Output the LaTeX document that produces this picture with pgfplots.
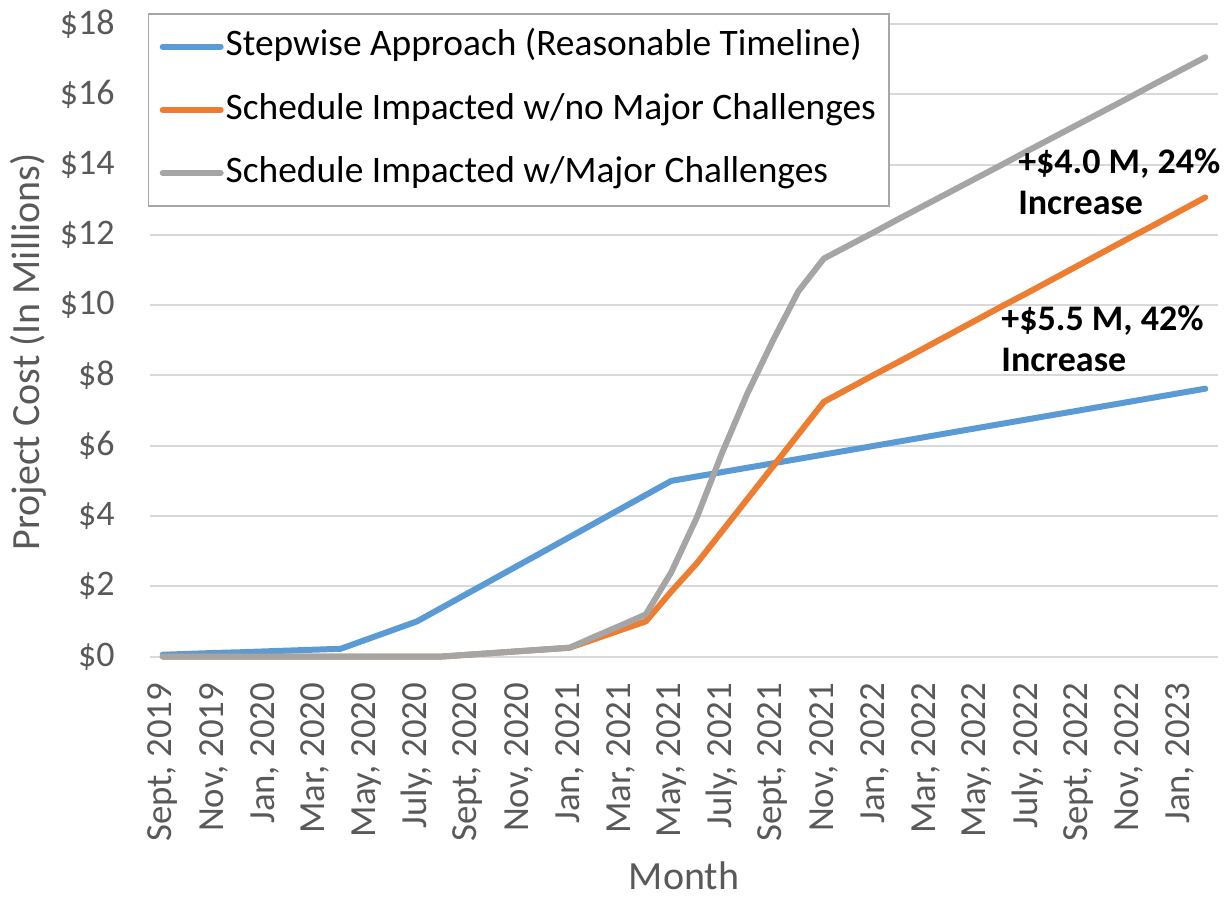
\documentclass[border=0pt]{standalone}
\usepackage{pgfplots}
\usepackage{pgfplotstable}
\pgfplotsset{compat=1.18}
\usepackage{fontspec}
\setmainfont{Carlito}
\definecolor{cblue}{HTML}{5B9BD5}
\definecolor{corange}{HTML}{ED7D31}
\definecolor{cgray}{HTML}{A5A5A5}
\definecolor{ctext}{HTML}{595959}
\definecolor{cgrid}{HTML}{D9D9D9}
\definecolor{cborder}{HTML}{A6A6A6}
\pgfplotstableread{
i blue orange gray
0 0.05 0 0
1 0.075 0 0
2 0.10 0 0
3 0.12 0 0
4 0.145 0 0
5 0.17 0 0
6 0.195 0 0
7 0.22 0 0
8 0.48 0 0
9 0.74 0 0
10 1.00 0 0
11 1.40 0 0
12 1.80 0.05 0.05
13 2.20 0.10 0.10
14 2.60 0.15 0.15
15 3.00 0.20 0.20
16 3.40 0.25 0.25
17 3.80 0.50 0.57
18 4.20 0.75 0.88
19 4.60 1.00 1.20
20 5.00 1.85 2.40
21 5.125 2.65 3.95
22 5.25 3.57 5.80
23 5.375 4.49 7.50
24 5.5 5.41 9.00
25 5.625 6.33 10.40
26 5.75 7.25 11.33
27 5.875 7.64 11.71
28 6.0 8.03 12.09
29 6.125 8.41 12.48
30 6.25 8.80 12.86
31 6.375 9.19 13.24
32 6.5 9.58 13.62
33 6.625 9.97 14.00
34 6.75 10.35 14.39
35 6.875 10.74 14.77
36 7.0 11.13 15.15
37 7.125 11.52 15.53
38 7.25 11.91 15.91
39 7.375 12.29 16.30
40 7.5 12.68 16.68
41 7.625 13.07 17.06
}\datatable
\begin{document}
\begin{tikzpicture}[x=1pt,y=1pt]
\begin{axis}[
  scale only axis, width=534pt, height=316.125pt,
  xmin=-0.5, xmax=41.5, ymin=0, ymax=18,
  clip=false,
  axis line style={draw=none},
  major tick length=0pt,
  ymajorgrids, grid style={cgrid, line width=1pt},
  ytick={0,2,...,18},
  yticklabels={\$0,\$2,\$4,\$6,\$8,\$10,\$12,\$14,\$16,\$18},
  yticklabel style={font=\fontsize{18}{20}\selectfont, text=ctext, anchor=east, inner sep=0pt},
  yticklabel shift=17.5pt,
  xtick={0,2,...,40},
  xticklabels={{Sept, 2019},{Nov, 2019},{Jan, 2020},{Mar, 2020},{May, 2020},{July, 2020},{Sept, 2020},{Nov, 2020},{Jan, 2021},{Mar, 2021},{May, 2021},{July, 2021},{Sept, 2021},{Nov, 2021},{Jan, 2022},{Mar, 2022},{May, 2022},{July, 2022},{Sept, 2022},{Nov, 2022},{Jan, 2023}},
  xticklabel style={rotate=90, anchor=east, font=\fontsize{18.4}{20}\selectfont, text=ctext, inner sep=0pt},
  xticklabel shift=13pt,
  xlabel={Month},
  xlabel style={at={(axis description cs:0.5,-0.347)}, anchor=center, font=\fontsize{20}{22}\selectfont, text=ctext},
  ylabel={Project Cost (In Millions)},
  ylabel style={at={(axis description cs:-0.114,0.4816)}, anchor=center, rotate=0, font=\fontsize{20}{22}\selectfont, text=ctext},
  legend style={at={(-0.0019,1.0177)}, anchor=north west, draw=cborder, line width=0.75pt, fill=white,
    font=\fontsize{18.7}{21}\selectfont, inner xsep=5.5pt, inner ysep=7.75pt, row sep=14.3pt, column sep=0pt,
    nodes={inner xsep=1pt, inner ysep=0pt, text height=13.3pt, text depth=4pt},
    cells={anchor=west}},
  legend image code/.code={\path (0pt,0pt) -- (29pt,0pt);\draw[#1, line width=2.6pt, line cap=round] (3.3pt,0pt) -- (27.7pt,0pt);},
]
\addplot[cblue, line width=3pt, line cap=round, line join=round] table[x=i, y=blue] {\datatable};
\addlegendentry{Stepwise Approach (Reasonable Timeline)}
\addplot[corange, line width=3pt, line cap=round, line join=round] table[x=i, y=orange] {\datatable};
\addlegendentry{Schedule Impacted w/no Major Challenges}
\addplot[cgray, line width=3pt, line cap=round, line join=round] table[x=i, y=gray] {\datatable};
\addlegendentry{Schedule Impacted w/Major Challenges}
\node[anchor=west, align=left, inner sep=0pt, font=\bfseries\fontsize{18}{20.5}\selectfont] at (axis cs:33.63,13.51) {+\$4.0 M, 24\%\\Increase};
\node[anchor=west, align=left, inner sep=0pt, font=\bfseries\fontsize{18}{20.5}\selectfont] at (axis cs:32.97,9.05) {+\$5.5 M, 42\%\\Increase};
\coordinate (SW) at (rel axis cs:0,0);
\end{axis}
\path[use as bounding box] (SW) ++(-75,-119.25) rectangle ++(616,447.5);
\end{tikzpicture}
\end{document}
